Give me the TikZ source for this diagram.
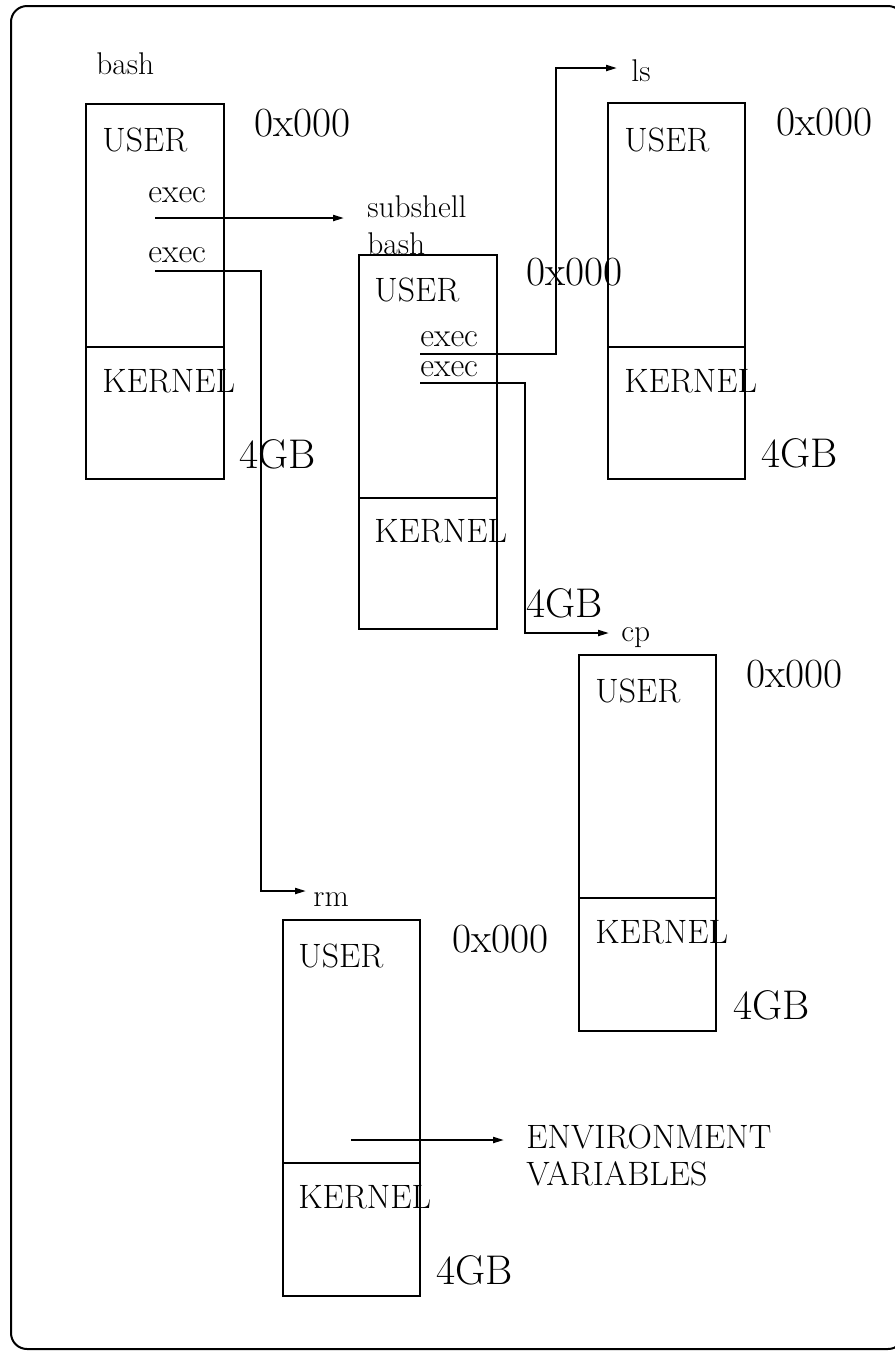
\documentclass[tikz,border=0pt]{standalone}
\usepackage{fontspec}
\usetikzlibrary{arrows.meta}

\tikzset{
  mem/.style={line width=1pt},
  tag/.style={anchor=base west, inner sep=0pt, font=\fontsize{15.7pt}{19pt}\selectfont},
  seg/.style={anchor=base west, inner sep=0pt, font=\fontsize{16.9pt}{20pt}\selectfont},
  addr/.style={anchor=base west, inner sep=0pt, font=\huge},
  link/.style={line width=1pt, -{Triangle[length=5.5pt,width=3pt]}}
}

\begin{document}
\begin{tikzpicture}[
    x=0.5pt,
    y=-0.5pt
  ]
    \useasboundingbox (0,0) rectangle (895,1351);
    \clip (0,0) rectangle (895,1351);
    % Marco (el lado derecho queda fuera)
    \draw[mem, rounded corners=8pt] (904,40) -- (904,6) -- (11,6) -- (11,1349)
      -- (904,1349) -- (904,1310);

    % --- bash (0x000 ... 4GB) ---
    \node[tag] (bashlbl) at (96,74) {bash};
    \draw[mem] (86,104) rectangle (224,479);
    \draw[mem] (86,347) -- (224,347);
    \node[seg] (bashuser) at (102,151) {USER};
    \node[addr] (bashlo) at (254,136) {0x000};
    \node[seg] (bashexa) at (148,202) {exec};
    \node[seg] (bashexb) at (148,262) {exec};
    \node[seg] (bashkern) at (102,392) {KERNEL};
    \node[addr] (bashhi) at (239,468) {4GB};

    % --- subshell bash ---
    \node[tag] (sublbl) at (367,217) {subshell};
    \node[tag] (subbash) at (367,254) {bash};
    \draw[mem] (359,255) rectangle (497,629);
    \draw[mem] (359,498) -- (497,498);
    \node[seg] (subuser) at (374,301) {USER};
    \node[addr] (sublo) at (526,285) {0x000};
    \node[seg] (subexa) at (420,346) {exec};
    \node[seg] (subexb) at (420,376) {exec};
    \node[seg] (subkern) at (374,542) {KERNEL};
    \node[addr] (subhi) at (526,617) {4GB};

    % --- ls ---
    \node[tag] (lslbl) at (631,81) {ls};
    \draw[mem] (608,103) rectangle (745,479);
    \draw[mem] (608,347) -- (745,347);
    \node[seg] (lsuser) at (624,151) {USER};
    \node[addr] (lslo) at (776,135) {0x000};
    \node[seg] (lskern) at (624,392) {KERNEL};
    \node[addr] (lshi) at (761,467) {4GB};

    % --- cp ---
    \node[tag] (cplbl) at (621,641) {cp};
    \draw[mem] (579,655) rectangle (716,1031);
    \draw[mem] (579,898) -- (716,898);
    \node[seg] (cpuser) at (595,702) {USER};
    \node[addr] (cplo) at (746,687) {0x000};
    \node[seg] (cpkern) at (595,943) {KERNEL};
    \node[addr] (cphi) at (733,1019) {4GB};

    % --- rm ---
    \node[tag] (rmlbl) at (313,906) {rm};
    \draw[mem] (283,920) rectangle (420,1296);
    \draw[mem] (283,1163) -- (420,1163);
    \node[seg] (rmuser) at (298,967) {USER};
    \node[addr] (rmlo) at (452,952) {0x000};
    \node[seg] (rmkern) at (298,1208) {KERNEL};
    \node[addr] (rmhi) at (436,1284) {4GB};
    \node[seg] (envtop) at (526,1148) {ENVIRONMENT};
    \node[seg] (envbot) at (526,1185) {VARIABLES};

    % Puntos de las flechas
    \coordinate (bashxa) at (155,218);
    \coordinate (subtip) at (344,218);
    \coordinate (bashxb) at (155,271);
    \coordinate (rmbend) at (261,891);
    \coordinate (rmtip) at (306,891);
    \coordinate (subxa) at (420,354);
    \coordinate (lsbend) at (556,68);
    \coordinate (lstip) at (617,68);
    \coordinate (subxb) at (420,383);
    \coordinate (cpbend) at (525,633);
    \coordinate (cptip) at (609,633);
    \coordinate (envfrom) at (351,1140);
    \coordinate (envtip) at (504,1140);

    \draw[link] (bashxa) -- (subtip);
    \draw[link] (bashxb) -| (rmbend) -- (rmtip);
    \draw[link] (subxa) -| (lsbend) -- (lstip);
    \draw[link] (subxb) -| (cpbend) -- (cptip);
    \draw[link] (envfrom) -- (envtip);
  \end{tikzpicture}
\end{document}
